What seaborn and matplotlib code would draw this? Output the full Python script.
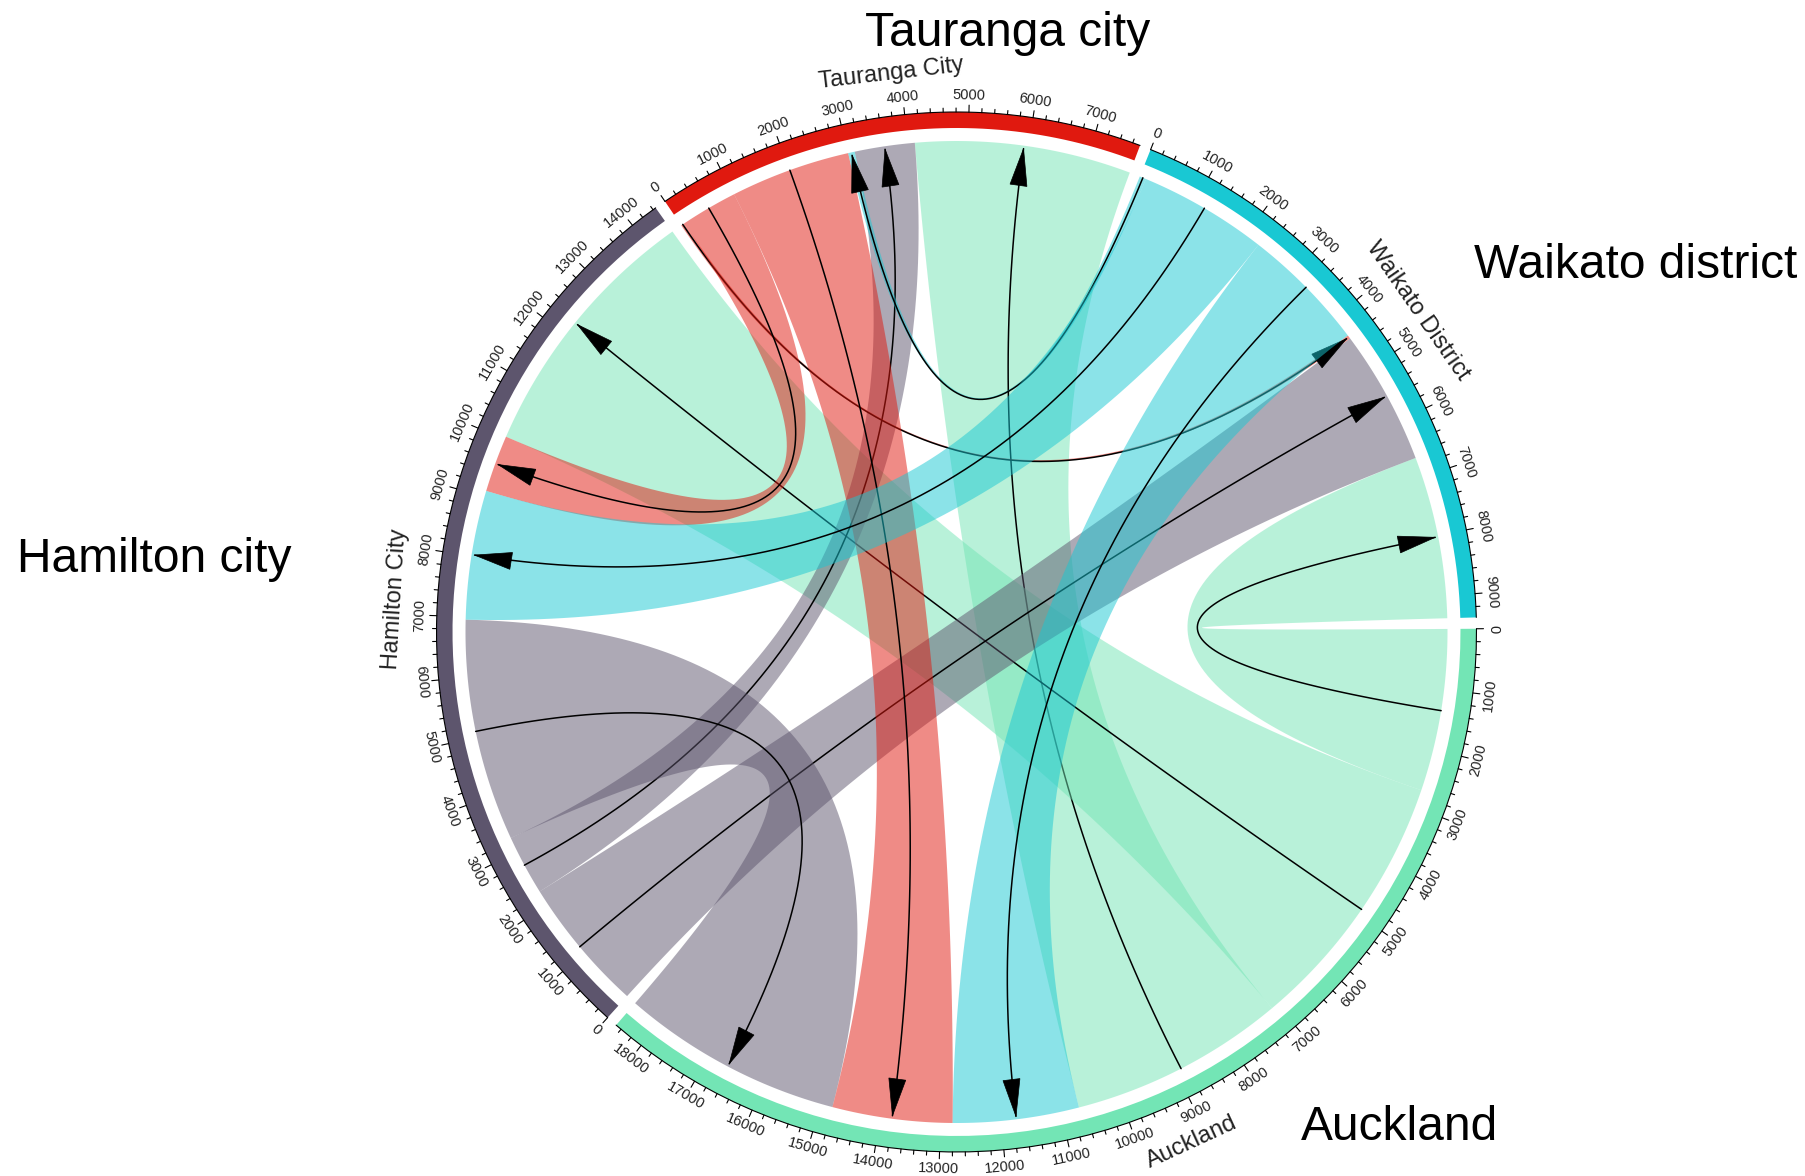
import numpy as np
import pandas as pd
import seaborn as sns
import matplotlib.pyplot as plt
from matplotlib.patches import Polygon

# Sectors (clockwise from the top-left) and their colours
sectors = ['Tauranga City', 'Waikato District', 'Auckland', 'Hamilton City']
codes = ['T', 'W', 'A', 'H']
big_labels = ['Tauranga city', 'Waikato district', 'Auckland', 'Hamilton city']
ring_hex = ['#E0190F', '#19C8D3', '#73E5B5', '#5D556D']

# Migration flows, origin -> destination
flow_from = ['T', 'T', 'T', 'W', 'W', 'W', 'H', 'H', 'H', 'A', 'A', 'A']
flow_to = ['W', 'H', 'A', 'T', 'H', 'A', 'T', 'W', 'A', 'T', 'W', 'H']
flow_val = [60, 950, 2000, 110, 2150, 2100, 1000, 2250, 3700, 3600, 2700, 4400]

# order of the link ends inside each sector (clockwise)
order_T = ['T>W', 'T>H', 'T>A', 'W>T', 'H>T', 'A>T']
order_W = ['W>T', 'W>H', 'W>A', 'T>W', 'H>W', 'A>W']
order_A = ['A>W', 'A>H', 'A>T', 'W>A', 'T>A', 'H>A']
order_H = ['H>W', 'H>T', 'H>A', 'W>H', 'T>H', 'A>H']

df = pd.DataFrame({'src': flow_from, 'dst': flow_to, 'value': flow_val})
df['key'] = df['src'] + '>' + df['dst']
val = dict(zip(df['key'], df['value']))
orders = dict(zip(codes, [order_T, order_W, order_A, order_H]))
palette = dict(zip(codes, sns.color_palette(ring_hex)))

sns.set_theme(style="white")
plt.rcParams['font.family'] = ['Liberation Sans', 'DejaVu Sans']

fig = plt.figure(figsize=(18.06, 11.76), dpi=100, facecolor='white')
ax = fig.add_axes([0, 0, 1, 1])
ax.set_xlim(0, 1806)
ax.set_ylim(1176, 0)
ax.axis('off')

cx, cy = 956.5, 632.0
R_LINK, R_IN, R_OUT = 491, 504, 520
GAP = 1.25
START = 124.1

totals = {c: sum(val[k] for k in orders[c]) for c in codes}
deg = (360 - GAP * len(codes)) / sum(totals.values())
sec_start = {}
a = START
for c in codes:
    sec_start[c] = a
    a -= totals[c] * deg + GAP


def ang(c, u):
    return sec_start[c] - u * deg


def pt(theta, r):
    t = np.radians(theta)
    return np.array([cx + r * np.cos(t), cy - r * np.sin(t)])


def arc(t0, t1, r, n=60):
    return np.array([pt(t, r) for t in np.linspace(t0, t1, n)])


def bez(p0, p2, n=80):
    c = np.array([cx, cy])
    t = np.linspace(0, 1, n)[:, None]
    return (1 - t) ** 2 * p0 + 2 * (1 - t) * t * c + t ** 2 * p2


# positions of link ends
ends = {}
for c in codes:
    u = 0
    for k in orders[c]:
        ends[(c, k)] = (u, u + val[k])
        u += val[k]

# links, drawn per origin group
for grp in ['A', 'H', 'T', 'W']:
    for _, row in df[df['src'] == grp].iterrows():
        k, s, d = row['key'], row['src'], row['dst']
        s0, s1 = ends[(s, k)]
        d0, d1 = ends[(d, k)]
        a_s0, a_s1 = ang(s, s0), ang(s, s1)
        a_d0, a_d1 = ang(d, d0), ang(d, d1)
        poly = np.vstack([
            arc(a_s0, a_s1, R_LINK),
            bez(pt(a_s1, R_LINK), pt(a_d0, R_LINK)),
            arc(a_d0, a_d1, R_LINK),
            bez(pt(a_d1, R_LINK), pt(a_s0, R_LINK)),
        ])
        ax.add_patch(Polygon(poly, closed=True, facecolor=palette[s],
                             edgecolor='none', alpha=0.5, zorder=2))
        # centre line with arrow at the destination
        p0 = pt(ang(s, (s0 + s1) / 2), R_LINK)
        p2 = pt(ang(d, (d0 + d1) / 2), R_LINK - 3)
        line = bez(p0, p2)
        ax.plot(line[:, 0], line[:, 1], color='black', lw=1.1, zorder=2)
        u_dir = (p2 - np.array([cx, cy])) / np.linalg.norm(p2 - np.array([cx, cy]))
        perp = np.array([-u_dir[1], u_dir[0]])
        base = p2 - 37 * u_dir
        tri = np.array([p2, base + 8.5 * perp, base - 8.5 * perp])
        ax.add_patch(Polygon(tri, closed=True, facecolor='black',
                             edgecolor='black', lw=0.5, zorder=2))


def rot_for(theta):
    th = theta % 360
    return th - 90 if th < 180 else th + 90


# outer ring, axis, ticks and labels
for c, name in zip(codes, sectors):
    t0, t1 = ang(c, 0), ang(c, totals[c])
    ring = np.vstack([arc(t0, t1, R_OUT), arc(t1, t0, R_IN)])
    ax.add_patch(Polygon(ring, closed=True, facecolor=palette[c],
                         edgecolor='none', zorder=4))
    ax_line = arc(t0, t1, R_OUT)
    ax.plot(ax_line[:, 0], ax_line[:, 1], color='black', lw=0.8, zorder=5)
    for u in range(0, totals[c] + 1, 200):
        th = ang(c, u)
        major = u % 1000 == 0
        p_a, p_b = pt(th, R_OUT), pt(th, R_OUT + (7 if major else 4))
        ax.plot([p_a[0], p_b[0]], [p_a[1], p_b[1]], color='black', lw=0.8, zorder=5)
        if major:
            p = pt(th, R_OUT + 17)
            ax.text(p[0], p[1], str(u), fontsize=10.5, color='#222222',
                    rotation=rot_for(th), rotation_mode='anchor',
                    ha='center', va='center', zorder=6)
    mid = (t0 + t1) / 2
    p = pt(mid, R_OUT + 42)
    ax.text(p[0], p[1], name, fontsize=17, color='#222222',
            rotation=rot_for(mid), rotation_mode='anchor',
            ha='center', va='center', zorder=6)

# large outer annotations
ax.text(1008, 33, big_labels[0], fontsize=34.5, color='black', ha='center', va='center')
ax.text(1474, 265, big_labels[1], fontsize=34.5, color='black', ha='left', va='center')
ax.text(1400, 1128, big_labels[2], fontsize=34.5, color='black', ha='center', va='center')
ax.text(17, 559, big_labels[3], fontsize=34.5, color='black', ha='left', va='center')

fig.savefig('out.png', dpi=100, facecolor='white')
